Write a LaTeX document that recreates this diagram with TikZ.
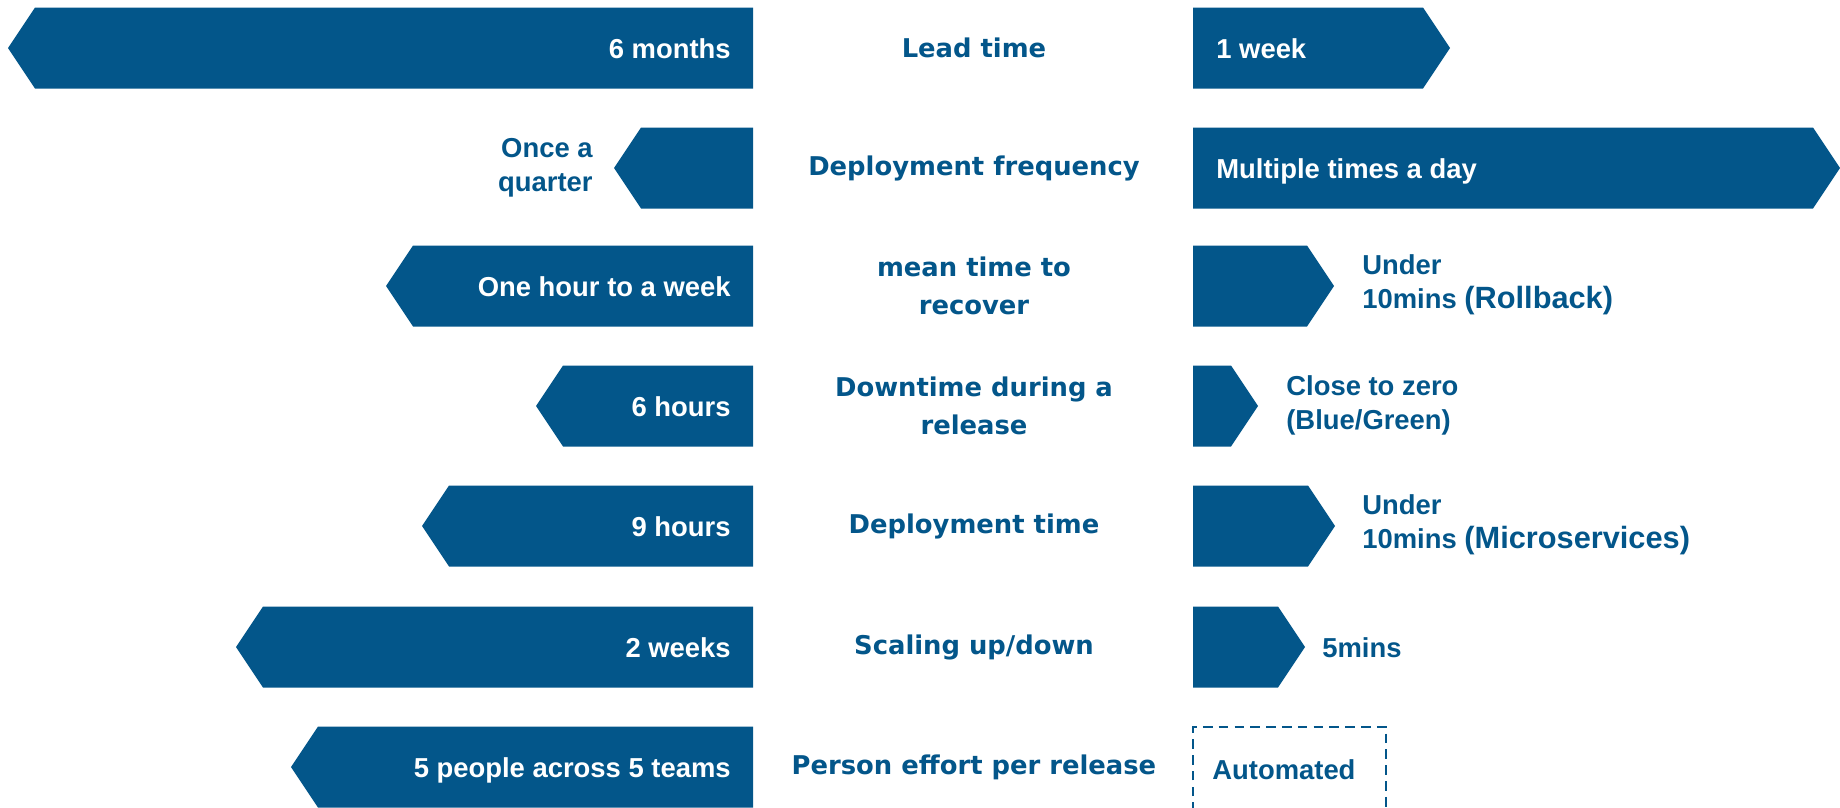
\documentclass[tikz,border=0pt]{standalone}
\usepackage{fontspec}
\setmainfont{Liberation Sans}
\newfontfamily\metricfamily{DejaVu Sans}
\definecolor{barblue}{RGB}{3,86,138}
\newcommand{\valfont}{\bfseries\fontsize{15.6}{19.3}\selectfont}
\newcommand{\bigpart}{\bfseries\fontsize{17.5}{19.3}\selectfont}
\newcommand{\metricfont}{\metricfamily\bfseries\fontsize{14.7}{21.3}\selectfont}
% bars: {row centre}{tip x}
\newcommand{\leftbar}[2]{\fill [bar] (753,#1-40.5) -- (#2+27,#1-40.5) -- (#2,#1) -- (#2+27,#1+40.5) -- (753,#1+40.5) -- cycle;}
\newcommand{\rightbar}[2]{\fill [bar] (1193,#1-40.5) -- (#2-27,#1-40.5) -- (#2,#1) -- (#2-27,#1+40.5) -- (1193,#1+40.5) -- cycle;}
\tikzstyle{bar} = [fill=barblue, draw=none]
\tikzstyle{val} = [text=white, font=\valfont, inner sep=0pt]
\tikzstyle{note} = [text=barblue, font=\valfont, inner sep=0pt]
\tikzstyle{metric} = [text=barblue, font=\metricfont, align=center, inner sep=0pt]
\tikzstyle{open} = [draw=barblue, line width=1.3pt, dash pattern=on 5.5pt off 3.5pt]

\begin{document}
\begin{tikzpicture}[x=0.02cm, y=-0.02cm]
    \useasboundingbox (0,0) rectangle (1840,808);
    % Place bars
    \leftbar{48}{8}
    \rightbar{48}{1450}
    \leftbar{168}{614}
    \rightbar{168}{1840}
    \leftbar{286}{386}
    \rightbar{286}{1334}
    \leftbar{406}{536}
    \rightbar{406}{1258}
    \leftbar{526}{422}
    \rightbar{526}{1335}
    \leftbar{647}{236}
    \rightbar{647}{1305}
    \leftbar{767}{291}
    \draw [open] (1193,812) -- (1193,727) -- (1386,727) -- (1386,812);

    % Place metrics
    \node [metric] (lead) at (974,48) {Lead time};
    \node [metric] (freq) at (974,168) {Deployment frequency};
    \node [metric] (mttr) at (974,286) {mean time to\\recover};
    \node [metric] (down) at (974,406) {Downtime during a\\release};
    \node [metric] (deploy) at (974,526) {Deployment time};
    \node [metric] (scale) at (974,647) {Scaling up/down};
    \node [metric] (effort) at (974,767) {Person effort per release};

    % Before
    \node [val, anchor=base east] (leadold) at (731,58) {6 months};
    \node [note, anchor=east, align=right] (freqold) at (593,168) {Once a\\quarter};
    \node [val, anchor=base east] (mttrold) at (731,296) {One hour to a week};
    \node [val, anchor=base east] (downold) at (731,416) {6 hours};
    \node [val, anchor=base east] (deployold) at (731,536) {9 hours};
    \node [val, anchor=base east] (scaleold) at (731,657) {2 weeks};
    \node [val, anchor=base east] (effortold) at (731,777) {5 people across 5 teams};

    % After
    \node [val, anchor=base west] (leadnew) at (1216,58) {1 week};
    \node [val, anchor=base west] (freqnew) at (1216,178) {Multiple times a day};
    \node [note, anchor=west, align=left] (mttrnew) at (1362,285) {Under\\10mins {\bigpart(Rollback)}};
    \node [note, anchor=west, align=left] (downnew) at (1286,405) {Close to zero\\(Blue/Green)};
    \node [note, anchor=west, align=left] (deploynew) at (1362,525) {Under\\10mins {\bigpart(Microservices)}};
    \node [note, anchor=base west] (scalenew) at (1322,657) {5mins};
    \node [note, anchor=base west] (effortnew) at (1212,779) {Automated};
\end{tikzpicture}
\end{document}
